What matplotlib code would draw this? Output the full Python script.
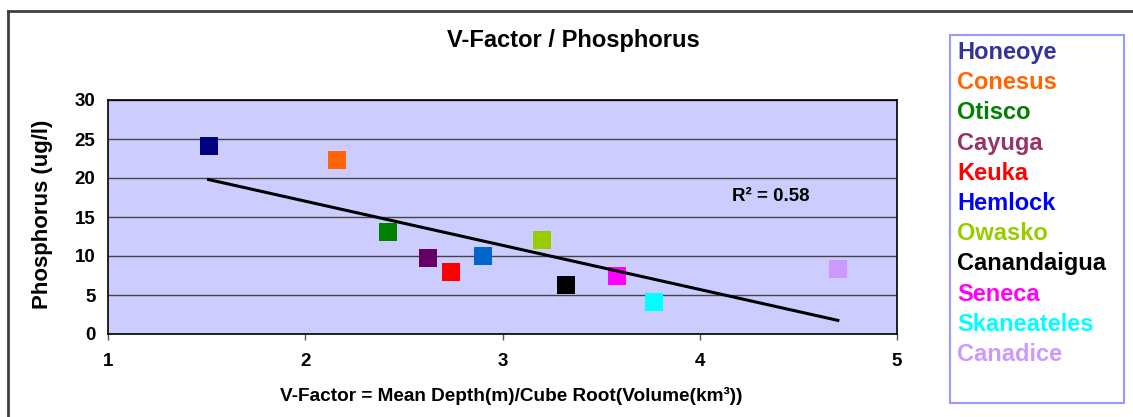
import numpy as np
import matplotlib
matplotlib.use("Agg")
import matplotlib.pyplot as plt
from matplotlib.patches import Rectangle
from matplotlib.lines import Line2D

plt.rcParams['font.family'] = ['Liberation Sans', 'DejaVu Sans']

lakes = ["Honeoye", "Conesus", "Otisco", "Cayuga", "Keuka", "Hemlock",
         "Owasko", "Canandaigua", "Seneca", "Skaneateles", "Canadice"]
v_factor = [1.51, 2.16, 2.42, 2.62, 2.74, 2.90, 3.20, 3.32, 3.58, 3.77, 4.70]
phosphorus = [24.1, 22.3, 13.1, 9.8, 8.0, 10.0, 12.1, 6.3, 7.4, 4.1, 8.3]
marker_colors = ["#000080", "#FF6600", "#008000", "#660066", "#FF0000", "#0066CC",
                 "#99CC00", "#000000", "#FF00FF", "#00FFFF", "#CC99FF"]
label_colors = ["#333399", "#FF6600", "#008000", "#993366", "#FF0000", "#0000FF",
                "#99CC00", "#000000", "#FF00FF", "#00FFFF", "#CC99FF"]
x_ticks = [1, 2, 3, 4, 5]
y_ticks = [0, 5, 10, 15, 20, 25, 30]
r2_text = "R² = 0.58"

W, H = 1133, 417
fig = plt.figure(figsize=(W / 100, H / 100), dpi=100)
fig.patch.set_facecolor("white")

def fx(px):
    return px / W

def fy(py):
    return 1 - py / H

ax = fig.add_axes([fx(108), fy(334), fx(897) - fx(108), fy(100) - fy(334)])
ax.set_facecolor("#CCCCFF")
ax.set_xlim(1, 5)
ax.set_ylim(0, 30)
ax.set_xticks(x_ticks)
ax.set_yticks(y_ticks)
ax.set_xticklabels([str(t) for t in x_ticks], fontsize=13.5, fontweight="bold")
ax.set_yticklabels([str(t) for t in y_ticks], fontsize=13.5, fontweight="bold")
ax.tick_params(axis="x", direction="out", length=4, width=1, color="#555555", pad=9.5)
ax.tick_params(axis="y", length=0, pad=9)
ax.yaxis.grid(True, color="#444444", linewidth=1)
ax.set_axisbelow(True)
for s in ax.spines.values():
    s.set_color("black")
    s.set_linewidth(1.2)

for x, y, c in zip(v_factor, phosphorus, marker_colors):
    ax.scatter([x], [y], marker="s", s=150, color=c, zorder=3, linewidths=0)

# linear trend line
coef = np.polyfit(v_factor, phosphorus, 1)
xs = np.array([min(v_factor), max(v_factor)])
ax.plot(xs, np.polyval(coef, xs), color="black", linewidth=2.2, zorder=4)

fig.text(fx(732), fy(197), r2_text, fontsize=13.5, fontweight="bold",
         ha="left", va="center")

fig.text(fx(573), fy(40), "V-Factor / Phosphorus", fontsize=17, fontweight="bold",
         ha="center", va="center")
fig.text(fx(511), fy(396), "V-Factor = Mean Depth(m)/Cube Root(Volume(km³))",
         fontsize=13.7, fontweight="bold", ha="center", va="center")
fig.text(fx(43), fy(214), "Phosphorus (ug/l)", fontsize=16, fontweight="bold",
         ha="center", va="center", rotation=90)

# legend box
fig.add_artist(Rectangle((fx(950), fy(403)), fx(1124) - fx(950), fy(35) - fy(403),
                         transform=fig.transFigure, facecolor="white",
                         edgecolor="#9999FF", linewidth=1.5))
for i, (name, c) in enumerate(zip(lakes, label_colors)):
    fig.text(fx(957), fy(52.5 + i * 30.2), name, color=c, fontsize=17,
             fontweight="bold", ha="left", va="center")

# outer frame
fig.add_artist(Line2D([fx(8), 1.0], [fy(11), fy(11)], transform=fig.transFigure,
                      color="#404040", linewidth=2))
fig.add_artist(Line2D([fx(8), fx(8)], [0.0, fy(11)], transform=fig.transFigure,
                      color="#404040", linewidth=2))

fig.savefig("out.png", dpi=100)
